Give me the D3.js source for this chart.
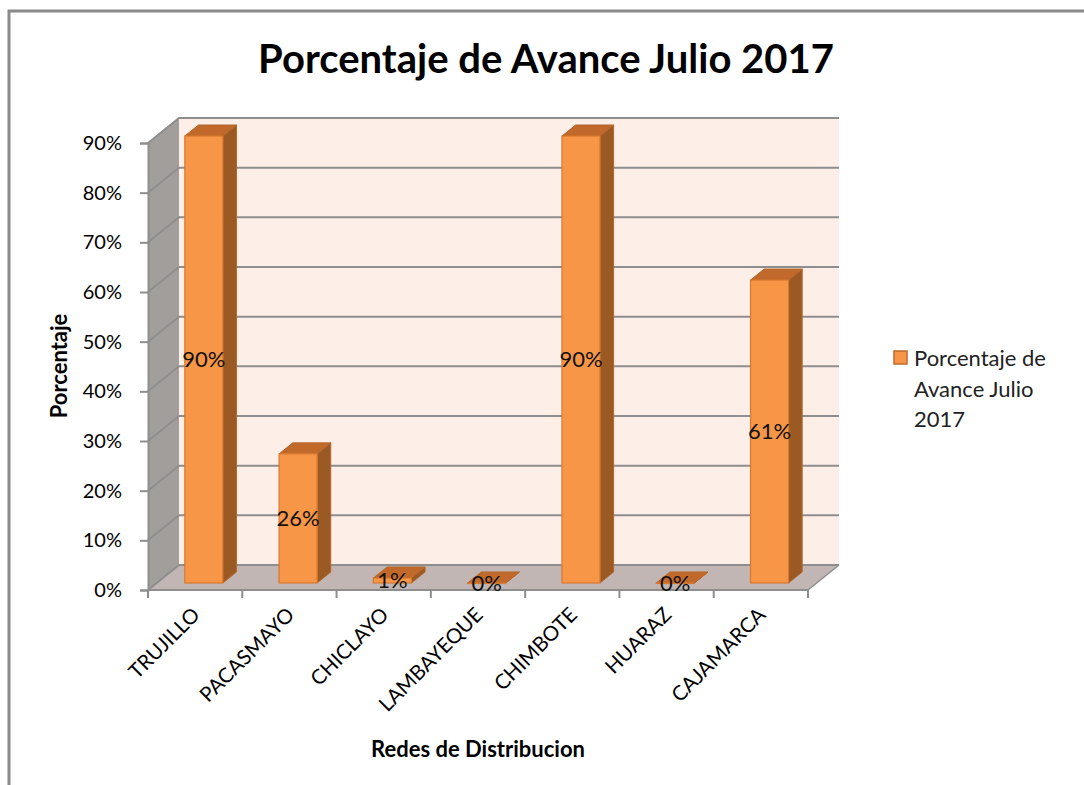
<!DOCTYPE html>
<html><head><meta charset="utf-8">
<script src="https://cdn.jsdelivr.net/npm/d3@7"></script>
<style>body{margin:0;background:#fff}svg{display:block}text{font-family:Lato,"Open Sans",sans-serif}</style>
</head><body>
<svg id="c" width="1084" height="785"></svg>
<script>
const categories = ["TRUJILLO","PACASMAYO","CHICLAYO","LAMBAYEQUE","CHIMBOTE","HUARAZ","CAJAMARCA"];
const values = [0.90, 0.26, 0.01, 0.00, 0.90, 0.00, 0.61];
const yTicks = [0,0.1,0.2,0.3,0.4,0.5,0.6,0.7,0.8,0.9];
const seriesName = ["Porcentaje de","Avance Julio","2017"];
const titleText = "Porcentaje de Avance Julio 2017";

const svg = d3.select("#c");
// chart border
svg.append("path").attr("d","M9,785 L9,11 L1084,11").attr("fill","none").attr("stroke","#8a8a8a").attr("stroke-width",3);

const x = d3.scaleBand().domain(categories).range([148,808]).padding(0);
const y = d3.scaleLinear().domain([0,0.9]).range([590,143]);
const DX = 31, DY = 25;
const f1 = 0.28, f2 = 0.72, barW = 38;
const x0 = 148, x1 = 808, yb = y(0), yt = y(0.9);

// walls
svg.append("polygon").attr("points",[[x0,yb],[x0+DX,yb-DY],[x0+DX,yt-DY],[x0,yt]].join(" ")).attr("fill","#a29e9c");
svg.append("polygon").attr("points",[[x0,yb],[x1,yb],[x1+DX,yb-DY],[x0+DX,yb-DY]].join(" ")).attr("fill","#c1b6b3");
svg.append("rect").attr("x",x0+DX).attr("y",yt-DY).attr("width",x1-x0).attr("height",yb-yt).attr("fill","#fdeee7");

// gridlines
const grid = svg.append("g");
yTicks.forEach(t=>{
  const yy = y(t);
  grid.append("path").attr("d",`M${x0},${yy} L${x0+DX},${yy-DY} L${x1+DX},${yy-DY}`)
    .attr("fill","none").attr("stroke","#8e8e8e").attr("stroke-width",2);
});
svg.append("path").attr("d",`M${x1},${yb} L${x1+DX},${yb-DY}`).attr("stroke","#8e8e8e").attr("stroke-width",1.5).attr("fill","none");

// y axis
const yAxis = svg.append("g").attr("transform",`translate(${x0},0)`)
  .call(d3.axisLeft(y).tickValues(yTicks).tickFormat(d3.format(".0%")).tickSize(8).tickPadding(18));
yAxis.select(".domain").attr("stroke","#8e8e8e").attr("stroke-width",2);
yAxis.selectAll(".tick line").attr("stroke","#8e8e8e").attr("stroke-width",2);
yAxis.selectAll("text").attr("font-size",20).attr("fill","#000");

// x axis
const xb = svg.append("g");
xb.append("line").attr("x1",x0).attr("x2",x1).attr("y1",yb).attr("y2",yb).attr("stroke","#8e8e8e").attr("stroke-width",2);
d3.range(categories.length+1).forEach(i=>{
  const xx = x0 + i*x.step();
  xb.append("line").attr("x1",xx).attr("x2",xx).attr("y1",yb).attr("y2",yb+8).attr("stroke","#8e8e8e").attr("stroke-width",2);
});
categories.forEach(c=>{
  const cx = x(c)+x.bandwidth()/2+1, cy = yb+21;
  svg.append("text").attr("transform",`translate(${cx},${cy}) rotate(-45)`)
    .attr("text-anchor","end").attr("dy","0.35em").attr("font-size",20.5).attr("fill","#000").text(c);
});

// bars
const bars = svg.append("g");
categories.forEach((c,i)=>{
  const v = values[i];
  const bx = x(c)+x.bandwidth()/2 - barW/2 + f1*DX;
  const by0 = yb - f1*DY;
  const h = yb - y(v);
  const byT = by0 - h;
  const ddx = (f2-f1)*DX, ddy = (f2-f1)*DY;
  bars.append("polygon").attr("points",[[bx+barW,by0],[bx+barW+ddx,by0-ddy],[bx+barW+ddx,byT-ddy],[bx+barW,byT]].join(" "))
    .attr("fill","#9b5a24").attr("stroke","#b5662a").attr("stroke-width",1);
  bars.append("polygon").attr("points",[[bx,byT],[bx+barW,byT],[bx+barW+ddx,byT-ddy],[bx+ddx,byT-ddy]].join(" "))
    .attr("fill","#c0692b").attr("stroke","#b5662a").attr("stroke-width",1);
  bars.append("rect").attr("x",bx).attr("y",byT).attr("width",barW).attr("height",Math.max(h,0.5))
    .attr("fill","#f79646").attr("stroke","#d8782f").attr("stroke-width",1.2);
  svg.append("text").attr("x",bx+barW/2).attr("y",by0 - h/2).attr("dy","0.35em")
    .attr("text-anchor","middle").attr("font-size",22).attr("fill","#111").text(d3.format(".0%")(v));
});

// titles
svg.append("text").attr("x",546).attr("y",73).attr("text-anchor","middle").attr("font-size",40).attr("font-weight","bold").attr("fill","#000").text(titleText);
svg.append("text").attr("transform","translate(67,366) rotate(-90)").attr("text-anchor","middle").attr("font-size",22).attr("font-weight","bold").attr("fill","#000").text("Porcentaje");
svg.append("text").attr("x",478).attr("y",757).attr("text-anchor","middle").attr("font-size",22).attr("font-weight","bold").attr("fill","#000").text("Redes de Distribucion");

// legend
const lg = svg.append("g");
lg.append("rect").attr("x",894).attr("y",351).attr("width",13).attr("height",13).attr("fill","#f79646").attr("stroke","#c0692b").attr("stroke-width",1.5);
seriesName.forEach((s,i)=>{
  lg.append("text").attr("x",914).attr("y",366+i*30.5).attr("font-size",22).attr("fill","#222").text(s);
});
</script>
</body></html>
